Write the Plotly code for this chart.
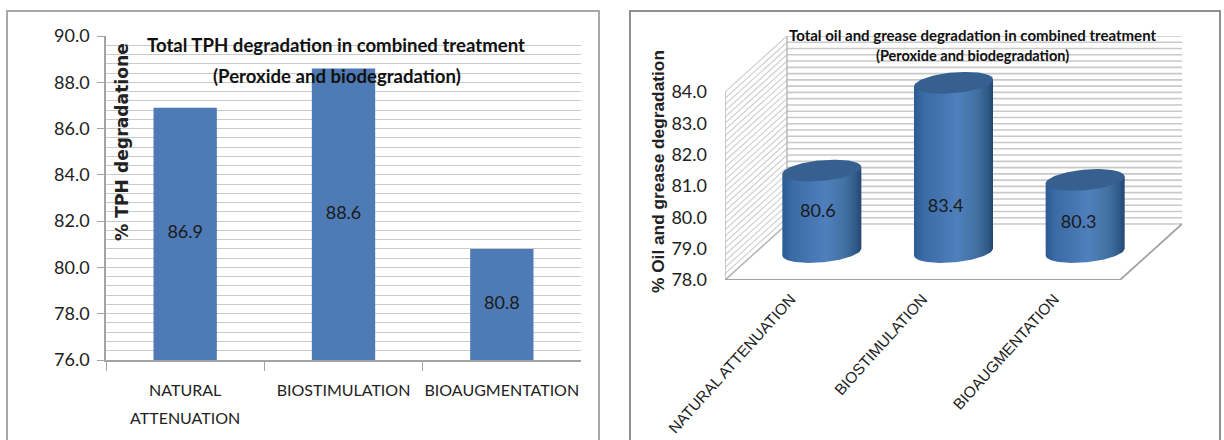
import numpy as np
import plotly.graph_objects as go

# Chart data
TPH_CATEGORIES = ["NATURAL ATTENUATION", "BIOSTIMULATION", "BIOAUGMENTATION"]
TPH_TICK_TEXT = [
    "<span style='font-size:16px'>NATURAL</span><br><span style='font-size:16px'>ATTENUATION</span>",
    "<span style='font-size:16px'>BIOSTIMULATION</span>",
    "<span style='font-size:16px'>BIOAUGMENTATION</span>",
]
TPH_VALUES = [86.9, 88.6, 80.8]
OIL_CATEGORIES = ["NATURAL ATTENUATION", "BIOSTIMULATION", "BIOAUGMENTATION"]
OIL_VALUES = [80.6, 83.4, 80.3]
OIL_TICKS = [78, 79, 80, 81, 82, 83, 84]

W, H = 1224, 440
BODY_FONT = "Lato"
INK = "#1a1a1a"
GRID = "#c9c9c9"
AXIS = "#a3a3a3"
TPH_FLOOR = 76


def xfrac(px):
    return px / W


def yfrac(py):
    return 1 - py / H


# Oblique projection of the 3D panel, expressed in axis units
DEPTH_X = 0.471
DEPTH_Y = 1.787
BASE = 78
TOP = 84
N_CAT = len(OIL_VALUES)
# Cylinder cross-section: half width, half height and tilt
ELL_A, ELL_B, ELL_C = 0.30, 0.33, 0.11
# Hand placement of the cylinder labels relative to their default spot
LABEL_ANCHOR = [80.17, 80.30, 79.79]
LABEL_SHIFT = [-0.03, -0.06, -0.05]
BODY_SCALE = [
    [0.0, "#2c5a93"], [0.12, "#3a6ba6"], [0.55, "#4f80bd"],
    [0.80, "#41709f"], [0.93, "#2f5a8a"], [1.0, "#24466f"],
]

fig = go.Figure()

# Flat bar chart
fig.add_trace(go.Bar(
    x=TPH_CATEGORIES, y=TPH_VALUES, width=0.4,
    marker=dict(color="#4e7ab5", line=dict(width=0)),
    xaxis="x", yaxis="y", showlegend=False,
))
# Value labels centred on the visible part of each bar
fig.add_trace(go.Scatter(
    x=TPH_CATEGORIES, y=[(TPH_FLOOR + v) / 2 for v in TPH_VALUES], mode="text",
    text=[f"{v:.1f}" for v in TPH_VALUES],
    textfont=dict(family=BODY_FONT, size=18, color=INK),
    xaxis="x", yaxis="y", showlegend=False,
))

# Back wall and side wall rulings of the 3D panel
levels = np.arange(BASE, TOP + 0.001, 0.2)
back_x, back_y, side_x, side_y = [], [], [], []
for lv in levels:
    back_x += [DEPTH_X, N_CAT + DEPTH_X, None]
    back_y += [lv + DEPTH_Y, lv + DEPTH_Y, None]
    side_x += [0, DEPTH_X, None]
    side_y += [lv, lv + DEPTH_Y, None]
fig.add_trace(go.Scatter(x=back_x, y=back_y, mode="lines",
                         line=dict(color=GRID, width=1.6),
                         xaxis="x2", yaxis="y2", showlegend=False))
fig.add_trace(go.Scatter(x=side_x, y=side_y, mode="lines",
                         line=dict(color="#d0d0d0", width=1.2),
                         xaxis="x2", yaxis="y2", showlegend=False))
# Wall edges and floor outline
fig.add_trace(go.Scatter(
    x=[DEPTH_X, DEPTH_X, None, 0, 0, None, 0, DEPTH_X],
    y=[BASE + DEPTH_Y, TOP + DEPTH_Y, None, BASE, TOP, None, BASE, BASE + DEPTH_Y],
    mode="lines", line=dict(color="#b5b5b5", width=1.4),
    xaxis="x2", yaxis="y2", showlegend=False))
fig.add_trace(go.Scatter(
    x=[0, N_CAT, N_CAT + DEPTH_X], y=[BASE, BASE, BASE + DEPTH_Y],
    mode="lines", line=dict(color=AXIS, width=1.8),
    xaxis="x2", yaxis="y2", showlegend=False))

# Cylinders sit half way into the floor depth
t = np.linspace(0, 2 * np.pi, 121)
for i, value in enumerate(OIL_VALUES):
    cx = i + 0.5 + DEPTH_X / 2
    floor_y = BASE + DEPTH_Y / 2
    ex = ELL_A * np.cos(t)
    ey = ELL_B * np.sin(t) + ELL_C * np.cos(t)
    lower = np.linspace(np.pi, 2 * np.pi, 61)
    low_x = cx + ELL_A * np.cos(lower)
    low_y = floor_y + ELL_B * np.sin(lower) + ELL_C * np.cos(lower)
    top_y = value + DEPTH_Y / 2
    body_x = list(low_x) + [cx + ELL_A, cx - ELL_A, cx - ELL_A]
    body_y = list(low_y) + [top_y + ELL_C, top_y - ELL_C, floor_y - ELL_C]
    fig.add_trace(go.Scatter(
        x=body_x, y=body_y, mode="lines", fill="toself",
        fillgradient=dict(type="horizontal", colorscale=BODY_SCALE),
        line=dict(width=0, color="rgba(0,0,0,0)"),
        xaxis="x2", yaxis="y2", showlegend=False))
    fig.add_trace(go.Scatter(
        x=cx + ex, y=top_y + ey, mode="lines", fill="toself",
        fillcolor="#36608f", line=dict(width=0, color="#36608f"),
        xaxis="x2", yaxis="y2", showlegend=False))
    fig.add_trace(go.Scatter(
        x=[cx + LABEL_SHIFT[i]], y=[LABEL_ANCHOR[i]], mode="text",
        text=[f"{value:.1f}"],
        textfont=dict(family=BODY_FONT, size=18, color=INK),
        xaxis="x2", yaxis="y2", showlegend=False))


def label(text, px, py, size, family=BODY_FONT, bold=False, angle=0, color="#111111"):
    shown = f"<b>{text}</b>" if bold else text
    return dict(text=shown, x=xfrac(px), y=yfrac(py), xref="paper", yref="paper",
                xanchor="center", yanchor="middle", showarrow=False, textangle=angle,
                font=dict(family=family, size=size, color=color))


annotations = [
    label("Total TPH degradation in combined treatment", 336, 45, 18.6, bold=True),
    label("(Peroxide and biodegradation)", 337, 76, 18.6, bold=True),
    label("% TPH degradatione", 122, 142, 17.2, family="DejaVu Sans", bold=True, angle=-90, color="#222222"),
    label("Total oil and grease degradation in combined treatment", 972, 35, 15, bold=True),
    label("(Peroxide and biodegradation)", 973, 55, 14.5, bold=True),
    label("% Oil and grease degradation", 658, 172, 17.3, family="Liberation Sans", bold=True, angle=-90, color="#222222"),
]

# Panel frames run off the bottom edge of the page
frames = [
    dict(type="rect", xref="paper", yref="paper", x0=xfrac(7), x1=xfrac(599),
         y0=-0.05, y1=yfrac(11), line=dict(color="#a8a8a8", width=2)),
    dict(type="rect", xref="paper", yref="paper", x0=xfrac(630), x1=xfrac(1220),
         y0=-0.05, y1=yfrac(11), line=dict(color="#8f8f8f", width=2)),
]

fig.update_layout(
    width=W, height=H, autosize=False,
    margin=dict(l=0, r=0, t=0, b=0),
    paper_bgcolor="white", plot_bgcolor="rgba(0,0,0,0)",
    showlegend=False, annotations=annotations, shapes=frames,
    xaxis=dict(
        domain=[xfrac(106), xfrac(581)], anchor="y", type="category",
        categoryorder="array", categoryarray=TPH_CATEGORIES,
        tickmode="array", tickvals=TPH_CATEGORIES, ticktext=TPH_TICK_TEXT,
        tickson="boundaries", ticks="outside", ticklen=9, tickcolor=AXIS,
        showline=True, linecolor=AXIS, linewidth=1.5, showgrid=False,
        tickfont=dict(family=BODY_FONT, size=21.5, color="#222222"), tickangle=0,
        ticklabelstandoff=8, automargin=False,
    ),
    yaxis=dict(
        domain=[yfrac(360), yfrac(36)], anchor="x", range=[TPH_FLOOR, 90], dtick=2, tick0=76,
        tickformat=".1f", ticks="outside", ticklen=7, tickcolor=AXIS,
        showline=True, linecolor=AXIS, linewidth=1.5,
        showgrid=True, gridcolor=GRID, gridwidth=1.2, zeroline=False,
        tickfont=dict(family=BODY_FONT, size=18, color="#222222"),
        ticklabelstandoff=4,
        minor=dict(dtick=0.4, tick0=76, showgrid=True, gridcolor=GRID, gridwidth=1.2),
        automargin=False,
    ),
    xaxis2=dict(
        domain=[xfrac(725), xfrac(1182)], anchor="y2",
        range=[0, N_CAT + DEPTH_X],
        tickmode="array", tickvals=[i + 0.5 for i in range(N_CAT)],
        ticktext=OIL_CATEGORIES, tickangle=-48, ticks="",
        ticklabelstandoff=6,
        showline=False, showgrid=False, zeroline=False,
        tickfont=dict(family="Liberation Sans", size=15.5, color="#222222"),
        automargin=False,
    ),
    yaxis2=dict(
        domain=[yfrac(280), yfrac(36)], anchor="x2",
        range=[BASE, TOP + DEPTH_Y],
        tickmode="array", tickvals=OIL_TICKS, tickformat=".1f", ticks="",
        ticklabelstandoff=17,
        showline=False, showgrid=False, zeroline=False,
        tickfont=dict(family=BODY_FONT, size=18, color="#222222"),
        automargin=False,
    ),
)

fig.write_html("out.html")
